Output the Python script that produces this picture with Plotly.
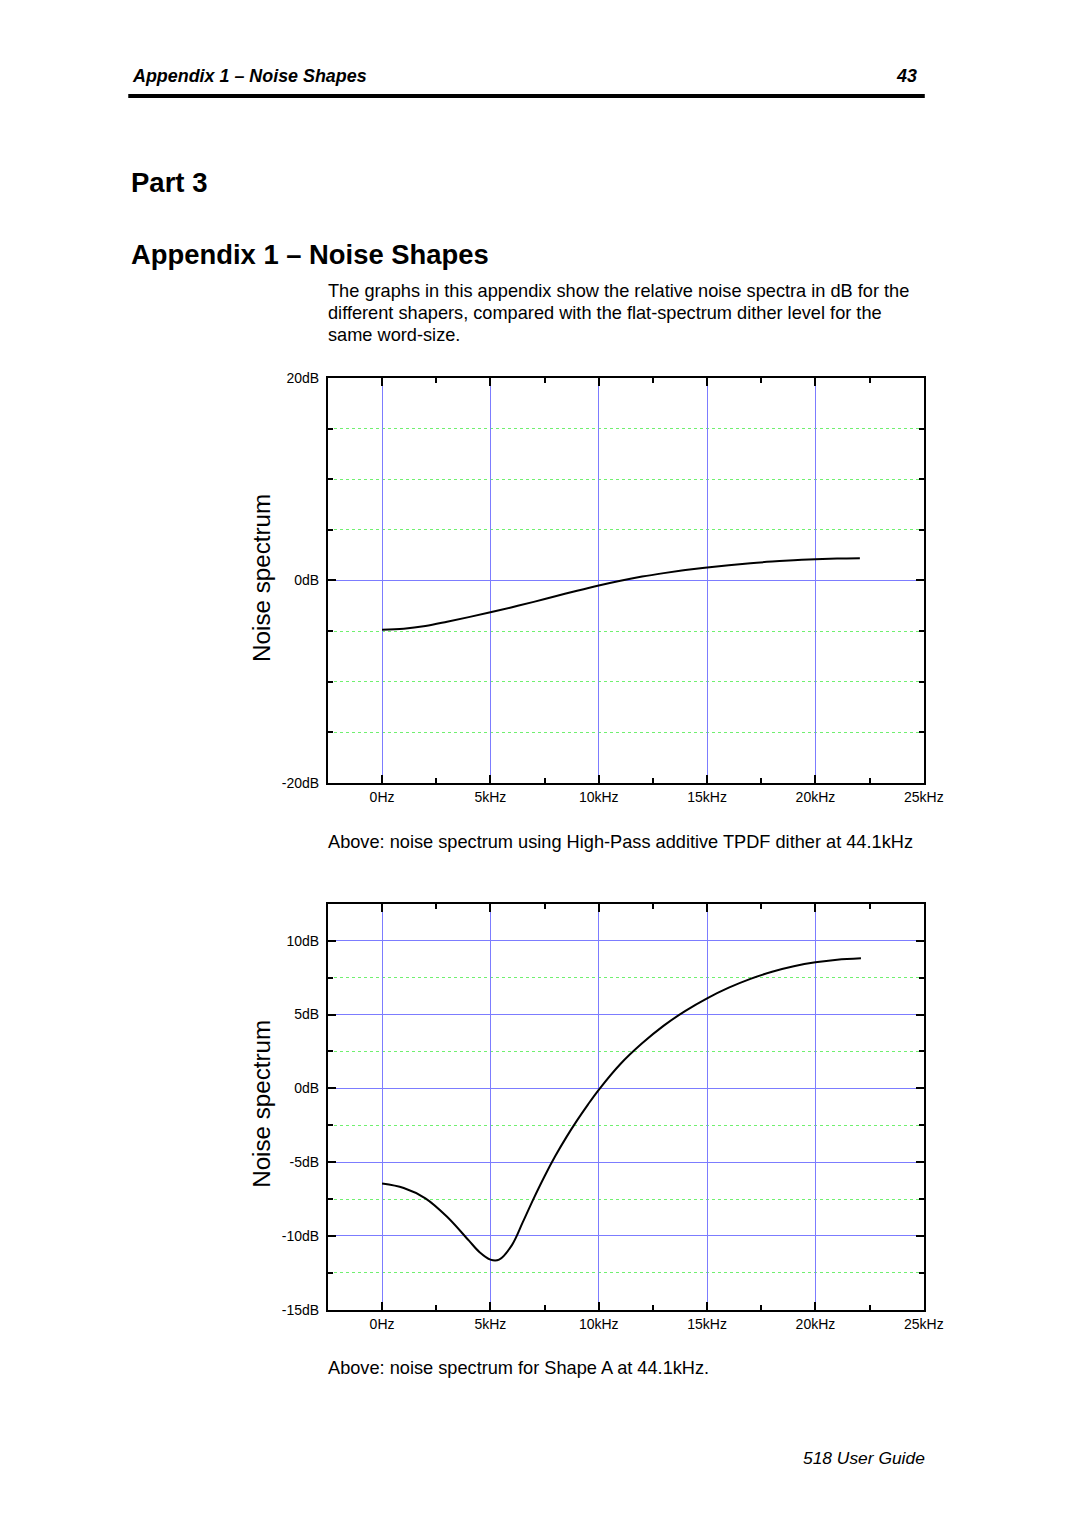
import plotly.graph_objects as go

# ---- data ----
hp_freq_khz = [0, 1, 2, 3, 4, 5, 6, 7, 8, 9, 10, 11, 12, 13, 14, 15, 16, 17, 18, 19, 20, 21, 22.05]
hp_db = [-4.87, -4.77, -4.5, -4.08, -3.63, -3.15, -2.65, -2.12, -1.57, -1.02, -0.5, -0.03,
         0.38, 0.72, 1.02, 1.28, 1.5, 1.7, 1.86, 1.99, 2.09, 2.16, 2.2]

sa_freq_khz = [0, 1, 2, 3, 4, 4.5, 5, 5.4, 6, 6.5, 7, 7.5, 8, 8.5, 9, 9.5, 10, 11, 12, 13, 14,
               15, 16, 17, 18, 19, 20, 21, 22.1]
sa_db = [-6.45, -6.75, -7.45, -8.7, -10.3, -11.1, -11.6, -11.6, -10.6, -9.05, -7.45, -5.95, -4.57,
         -3.32, -2.17, -1.1, -0.1, 1.65, 3.05, 4.25, 5.25, 6.1, 6.82, 7.42, 7.9, 8.27, 8.54, 8.72, 8.82]

x_tickvals = [0, 5, 10, 15, 20, 25]
x_ticktext = ["0Hz", "5kHz", "10kHz", "15kHz", "20kHz", "25kHz"]
x_minor = [2.5, 7.5, 12.5, 17.5, 22.5]

y1_tickvals = [-20, 0, 20]
y1_ticktext = ["-20dB", "0dB", "20dB"]
y1_minor = [-15, -10, -5, 5, 10, 15]

y2_tickvals = [-15, -10, -5, 0, 5, 10]
y2_ticktext = ["-15dB", "-10dB", "-5dB", "0dB", "5dB", "10dB"]
y2_minor = [-12.5, -7.5, -2.5, 2.5, 7.5]

W, H = 1080, 1528
BLUE = "#7c7cff"
GREEN = "#70f070"
FONT = "Liberation Sans, Arial, sans-serif"

# page-pixel -> paper fraction (compensates the capture's slight scaling)
def px(x):
    return ((x + 0.5) / 0.9833) / W

def py(y):
    return 1 - ((y - 7.0) / 0.9897) / H

fig = go.Figure()
fig.add_trace(go.Scatter(x=hp_freq_khz, y=hp_db, mode="lines", xaxis="x", yaxis="y",
                         line=dict(color="black", width=2, shape="spline", smoothing=1.0),
                         showlegend=False, hoverinfo="skip"))
fig.add_trace(go.Scatter(x=sa_freq_khz, y=sa_db, mode="lines", xaxis="x2", yaxis="y2",
                         line=dict(color="black", width=2, shape="spline", smoothing=1.0),
                         showlegend=False, hoverinfo="skip"))

def xaxis(domain, anchor):
    return dict(domain=domain, anchor=anchor, range=[-2.5, 25], tickmode="array",
                tickvals=x_tickvals, ticktext=x_ticktext, ticks="inside", ticklen=8,
                tickwidth=1.5, tickcolor="black", showline=True, linecolor="black",
                linewidth=2, mirror="ticks", showgrid=True, gridcolor=BLUE, gridwidth=1,
                zeroline=False, tickfont=dict(family=FONT, size=14, color="black"),
                minor=dict(tickvals=x_minor, ticks="inside", ticklen=5, tickwidth=1.5,
                           tickcolor="black", showgrid=False),
                fixedrange=True)

def yaxis(domain, anchor, rng, tv, tt, minor):
    return dict(domain=domain, anchor=anchor, range=rng, tickmode="array",
                tickvals=tv, ticktext=tt, ticks="inside", ticklen=8,
                tickwidth=1.5, tickcolor="black", showline=True, linecolor="black",
                linewidth=2, mirror="ticks", showgrid=True, gridcolor=BLUE, gridwidth=1,
                zeroline=False, tickfont=dict(family=FONT, size=14, color="black"),
                ticklabelstandoff=4,
                minor=dict(tickvals=minor, ticks="inside", ticklen=5, tickwidth=1.5,
                           tickcolor="black", showgrid=True, gridcolor=GREEN,
                           griddash="dot", gridwidth=1),
                fixedrange=True)

fig.update_layout(
    width=W, height=H, margin=dict(l=0, r=0, t=0, b=0),
    paper_bgcolor="white", plot_bgcolor="white",
    xaxis=xaxis([px(328), px(925)], "y"),
    yaxis=yaxis([py(782), py(377)], "x", [-20, 20], y1_tickvals, y1_ticktext, y1_minor),
    xaxis2=xaxis([px(328), px(925)], "y2"),
    yaxis2=yaxis([py(1309), py(903)], "x2", [-15, 12.5], y2_tickvals, y2_ticktext, y2_minor),
)

def text(x, y, s, size, xanchor="left", bold=False, italic=False, angle=0):
    if bold:
        s = "<b>" + s + "</b>"
    if italic:
        s = "<i>" + s + "</i>"
    fig.add_annotation(x=px(x), y=py(y), xref="paper", yref="paper", text=s,
                       showarrow=False, xanchor=xanchor, yanchor="middle",
                       textangle=angle, font=dict(family=FONT, size=size, color="black"))

text(130, 75, "Appendix 1 – Noise Shapes", 17.9, bold=True, italic=True)
text(920, 75, "43", 17.9, xanchor="right", bold=True, italic=True)
fig.add_shape(type="line", xref="paper", yref="paper", x0=px(128), x1=px(926),
              y0=py(95), y1=py(95), line=dict(color="black", width=4))
text(129, 182, "Part 3", 27.5, bold=True)
text(129, 254, "Appendix 1 – Noise Shapes", 27.4, bold=True)
text(326, 290, "The graphs in this appendix show the relative noise spectra in dB for the", 18.2)
text(326, 312, "different shapers, compared with the flat-spectrum dither level for the", 18.2)
text(326, 334, "same word-size.", 18.2)
text(262, 577, "Noise spectrum", 24.2, xanchor="center", angle=-90)
text(262, 1103, "Noise spectrum", 24.2, xanchor="center", angle=-90)
text(326, 841, "Above: noise spectrum using High-Pass additive TPDF dither at 44.1kHz", 18.2)
text(326, 1367, "Above: noise spectrum for Shape A at 44.1kHz.", 18.2)
text(928, 1457, "518 User Guide", 17.4, xanchor="right", italic=True)

fig.write_html("out.html")
